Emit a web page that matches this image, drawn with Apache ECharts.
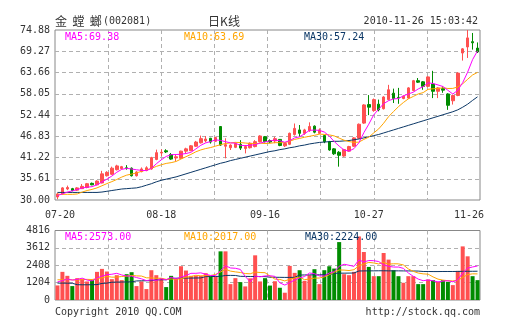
<!DOCTYPE html>
<html><head><meta charset="utf-8">
<script src="https://cdn.jsdelivr.net/npm/echarts@6/dist/echarts.min.js"></script>
<style>html,body{margin:0;padding:0;background:#fff}#c{width:505px;height:330px}</style>
</head><body><div id="c"></div>
<script>
const dates = ['07-20','07-21','07-22','07-23','07-26','07-27','07-28','07-29','07-30','08-02','08-03','08-04','08-05','08-06','08-09','08-10','08-11','08-12','08-13','08-16','08-17','08-18','08-19','08-20','08-23','08-24','08-25','08-26','08-27','08-30','08-31','09-01','09-02','09-03','09-06','09-07','09-08','09-09','09-10','09-13','09-14','09-15','09-16','09-17','09-20','09-21','09-27','09-28','09-29','09-30','10-08','10-11','10-12','10-13','10-14','10-15','10-18','10-19','10-20','10-21','10-22','10-25','10-26','10-27','10-28','10-29','11-01','11-02','11-03','11-04','11-05','11-08','11-09','11-10','11-11','11-12','11-15','11-16','11-17','11-18','11-19','11-22','11-23','11-24','11-25','11-26'];
const tickDates = ['07-20','08-18','09-16','10-27','11-26'];
const openP = [30.8,31.6,32.9,33.0,32.6,33.0,33.3,34.4,34.0,34.5,36.4,36.8,38.0,38.3,38.5,38.4,36.4,37.5,37.8,38.2,40.7,42.4,43.0,42.0,41.1,41.0,42.9,43.0,44.2,45.1,45.6,46.3,45.5,49.4,44.2,43.8,43.9,44.7,43.6,43.8,44.1,45.4,46.7,45.7,45.6,46.0,44.3,44.7,47.3,48.5,47.6,48.3,49.5,47.6,47.0,45.4,43.5,42.6,41.6,42.9,44.2,46.3,50.3,55.2,53.6,55.3,54.1,56.5,58.2,57.1,56.8,56.9,58.9,61.5,61.2,60.0,60.6,58.7,59.4,58.0,56.2,57.6,68.8,70.4,71.8,70.1];
const closeP = [31.6,33.2,33.3,32.5,33.2,33.6,34.3,34.0,35.0,36.9,37.3,38.4,39.0,38.8,38.3,36.4,37.4,38.2,38.5,41.2,42.5,42.6,42.7,40.8,41.4,42.9,43.5,44.3,45.3,46.2,46.1,45.3,46.5,44.5,44.6,44.5,44.9,43.7,44.1,45.0,45.4,46.9,45.4,45.3,46.2,44.4,44.9,47.6,48.9,47.6,48.5,49.4,47.9,48.5,45.4,43.2,42.2,41.8,43.3,44.1,46.4,50.0,55.1,54.5,56.5,53.8,57.2,59.1,56.8,57.0,57.4,59.6,61.5,61.1,60.0,62.5,58.7,59.6,59.0,55.0,57.6,63.5,69.9,72.8,71.5,69.1];
const lowP = [30.2,31.4,32.6,32.3,32.4,32.9,33.1,33.9,33.9,34.4,36.2,36.6,37.8,38.1,38.0,36.2,36.2,37.3,37.6,38.0,40.5,41.6,42.4,40.6,40.3,40.9,42.3,42.9,44.0,44.9,45.2,44.9,45.3,44.3,41.0,43.2,43.7,43.2,42.3,43.6,43.9,45.2,45.2,45.0,45.0,44.2,44.0,44.5,47.0,46.7,47.2,48.0,47.6,47.4,45.0,43.0,41.9,38.8,41.4,42.7,44.0,46.1,50.1,52.4,53.3,53.4,53.9,56.3,55.6,55.4,56.6,56.7,58.7,60.9,59.1,59.8,56.9,56.9,58.3,53.8,55.2,57.4,66.8,67.5,69.7,68.8];
const highP = [31.9,33.4,33.8,33.2,33.4,34.2,34.5,34.6,35.2,37.7,37.6,38.8,39.3,39.0,39.2,38.6,37.6,38.6,38.9,41.4,43.3,43.4,43.4,42.4,42.0,43.0,43.8,44.5,45.6,47.0,46.9,46.4,46.7,49.5,46.3,44.7,45.2,45.8,44.5,45.2,45.8,47.1,46.9,46.0,46.7,46.1,45.2,47.8,50.2,49.8,48.8,50.5,49.7,48.9,47.2,45.6,43.7,42.9,43.5,44.3,46.6,50.2,55.3,57.7,56.8,56.5,57.4,60.4,59.4,59.6,57.6,59.8,61.7,62.2,61.4,62.7,64.1,59.8,60.0,58.2,57.8,63.7,70.1,74.88,74.1,71.6];
const ma5 = [31.2,31.6,32.1,32.4,32.76,33.16,33.38,33.52,34.02,34.76,35.5,36.32,37.32,38.08,38.36,38.18,37.98,37.82,37.76,38.34,39.56,40.6,41.5,41.96,42.0,42.08,42.26,42.58,43.48,44.44,45.08,45.44,45.88,45.72,45.4,45.08,45.0,44.44,44.36,44.44,44.62,45.02,45.36,45.6,45.84,45.64,45.24,45.68,46.4,46.68,47.5,48.4,48.46,48.38,47.94,46.88,45.44,44.22,43.18,42.92,43.56,45.12,47.78,50.02,52.5,53.98,55.42,56.22,56.68,56.78,57.5,57.98,58.46,59.32,59.92,60.94,60.76,60.38,59.96,58.96,57.98,58.94,61.0,63.76,67.06,69.38];
const ma10 = [31.5,31.5,31.5,31.5,31.6,32.1,32.5,32.8,33.2,33.76,34.33,34.85,35.42,36.05,36.56,36.84,37.15,37.57,37.92,38.35,38.87,39.29,39.66,39.86,40.17,40.82,41.43,42.04,42.72,43.22,43.58,43.85,44.23,44.6,44.92,45.08,45.22,45.16,45.04,44.92,44.85,45.01,44.9,44.98,45.14,45.13,45.13,45.52,46.0,46.26,46.57,46.82,47.07,47.39,47.31,47.19,46.92,46.34,45.78,45.43,45.22,45.28,46.0,46.6,47.71,48.77,50.27,52.0,53.35,54.64,55.74,56.7,57.34,58.0,58.35,59.22,59.37,59.42,59.64,59.44,59.46,59.85,60.69,61.86,63.01,63.69];
const ma30 = [32.0,32.0,32.0,32.0,32.0,32.0,32.0,32.0,32.0,32.1,32.3,32.5,32.7,32.9,33.0,33.1,33.2,33.5,33.9,34.3,34.8,35.2,35.5,35.8,36.1,36.5,36.9,37.3,37.7,38.1,38.5,38.9,39.3,39.7,40.0,40.4,40.7,41.0,41.3,41.6,41.9,42.2,42.5,42.8,43.0,43.3,43.5,43.8,44.0,44.3,44.5,44.8,45.0,45.2,45.3,45.4,45.5,45.5,45.6,45.7,45.9,46.1,46.4,46.7,47.0,47.3,47.7,48.1,48.5,48.9,49.3,49.7,50.1,50.5,50.9,51.3,51.7,52.1,52.5,52.9,53.3,53.8,54.5,55.3,56.3,57.24];
const volume = [1010,1950,1675,964,1514,1468,1285,1400,1950,2156,1973,1445,1720,1377,1789,1927,964,1285,757,2064,1720,1514,895,1675,1514,2340,2041,1675,1675,1675,1858,1629,1629,3371,3371,1100,1514,1239,941,1500,3096,1285,1514,1000,1300,848,505,2362,1880,2063,1330,1720,2133,1100,2064,2339,2178,4013,1789,1720,1950,4403,3325,2293,1651,1651,3256,2798,2064,1651,1193,1651,1651,1100,1100,1422,1376,1261,1376,1261,1032,2017,3715,3027,1651,1376];
const volMa5 = [1250,1350,1450,1380,1423,1514,1381,1326,1523,1652,1753,1785,1849,1734,1661,1652,1555,1468,1344,1399,1358,1468,1390,1574,1464,1588,1693,1849,1849,1881,1785,1702,1693,2032,2372,2220,2197,2119,1633,1259,1658,1612,1667,1679,1639,1189,1033,1203,1379,1532,1628,1871,1825,1669,1669,1871,1963,2339,2477,2408,2330,2775,2637,2738,2724,2665,2435,2330,2284,2284,2192,1871,1642,1449,1339,1385,1330,1252,1307,1339,1261,1389,1880,2210,2288,2357];
const volMa10 = [1400,1400,1420,1400,1380,1420,1430,1420,1480,1538,1634,1583,1588,1629,1657,1703,1670,1659,1539,1530,1505,1512,1429,1459,1432,1473,1581,1620,1712,1673,1687,1698,1771,1941,2127,2003,1950,1906,1833,1816,1939,1905,1893,1656,1449,1424,1323,1435,1529,1586,1409,1452,1514,1524,1601,1750,1917,2082,2073,2039,2101,2369,2488,2608,2566,2498,2605,2484,2511,2504,2429,2153,1986,1867,1812,1789,1601,1447,1378,1339,1323,1360,1566,1759,1814,1809];
const volMa30 = [1170,1170,1165,1160,1060,1055,1055,1060,1065,1150,1170,1230,1240,1245,1250,1260,1320,1330,1335,1340,1395,1400,1405,1500,1510,1515,1520,1520,1525,1530,1620,1625,1630,1640,1700,1705,1700,1640,1635,1630,1630,1625,1620,1580,1575,1570,1565,1565,1570,1730,1735,1740,1745,1745,1750,1760,1850,1860,1860,1865,1870,2010,2015,2020,2020,2025,2025,2020,2020,2020,2015,2015,2010,2005,1975,1975,1970,1970,1975,1975,1975,1980,1985,1990,1990,1995];
const priceTicks = [30.00,35.61,41.22,46.83,52.44,58.05,63.66,69.27,74.88];
const volTicks = [0,1204,2408,3612,4816];
const mainLegend = ['MA5:69.38','MA10:63.69','MA30:57.24'];
const volLegend = ['MA5:2573.00','MA10:2017.00','MA30:2224.00'];
const titleName = '金  螳  螂';
const titleCode = '(002081)';
const titleKind = '日K线';
const titleTime = '2010-11-26 15:03:42';
const footLeft = 'Copyright 2010 QQ.COM';
const footRight = 'http://stock.qq.com';

const RED = '#ff5050', GREEN = '#008c00';
const C5 = '#ff00ff', C10 = '#ffa500', C30 = '#0b3766';
const MONO = '"DejaVu Sans Mono", monospace';
const CJK = '"Noto Sans CJK SC", sans-serif';
function gridDash() { return {show: true, showMinLine: false, showMaxLine: false, lineStyle: {color: '#b0b0b0', type: [4, 3], width: 1}}; }
const lblStyle = {color: '#333', fontFamily: MONO, fontSize: 10};
function hiddenAxis() { return {axisLine: {show: false}, axisTick: {show: false}, axisLabel: {show: false}}; }

const candleData = openP.map((o, i) => [o, closeP[i], lowP[i], highP[i]]);
const volData = volume.map((v, i) => ({value: v, itemStyle: {color: closeP[i] >= openP[i] ? RED : GREEN}}));
const rows = priceTicks.length - 1;
const cols = 8;

function txt(x, y, text, color, font, align) {
  return {type: 'text', x: x, y: y, silent: true, z: 100,
    style: {text: text, fill: color, font: font, align: align || 'left', textAlign: align || 'left', verticalAlign: 'middle', textVerticalAlign: 'middle'}};
}

const chart = echarts.init(document.getElementById('c'), null, {renderer: 'canvas'});
chart.setOption({
  animation: false,
  backgroundColor: '#fff',
  grid: [
    {left: 55, top: 30, width: 425, height: 170, show: true, borderColor: '#888', borderWidth: 1, backgroundColor: 'transparent'},
    {left: 55, top: 230.5, width: 425, height: 69.5, show: true, borderColor: '#888', borderWidth: 1, backgroundColor: 'transparent'}
  ],
  xAxis: [
    Object.assign({type: 'category', gridIndex: 0, data: dates, boundaryGap: true}, hiddenAxis(), {
      splitLine: {show: false},
      axisLabel: Object.assign({}, lblStyle, {
        show: true, margin: 10, hideOverlap: false,
        interval: (idx, val) => tickDates.includes(val),
        formatter: (val) => val === tickDates[tickDates.length - 1] ? '{e|' + val + '}' : (val === tickDates[0] ? '{s|' + val + '}' : val),
        rich: {e: Object.assign({}, lblStyle, {padding: [0, 17, 0, 0]}), s: Object.assign({}, lblStyle, {padding: [0, 0, 0, 5]})}
      })}),
    Object.assign({type: 'value', gridIndex: 0, min: 0, max: cols, interval: 1, position: 'top'}, hiddenAxis(), {splitLine: gridDash()}),
    Object.assign({type: 'category', gridIndex: 1, data: dates, boundaryGap: true}, hiddenAxis(), {splitLine: {show: false}}),
    Object.assign({type: 'value', gridIndex: 1, min: 0, max: cols, interval: 1, position: 'top'}, hiddenAxis(), {splitLine: gridDash()})
  ],
  yAxis: [
    {type: 'value', gridIndex: 0, min: priceTicks[0], max: priceTicks[rows],
      axisLine: {show: false}, axisTick: {show: false, customValues: priceTicks},
      axisLabel: Object.assign({}, lblStyle, {margin: 5, customValues: priceTicks, formatter: v => Number(v).toFixed(2)}),
      splitLine: {show: false}},
    {type: 'value', gridIndex: 1, min: 0, max: volTicks[volTicks.length - 1], interval: volTicks[1],
      axisLine: {show: false}, axisTick: {show: false},
      axisLabel: Object.assign({}, lblStyle, {margin: 5, formatter: v => String(v)}),
      splitLine: gridDash()},
    Object.assign({type: 'value', gridIndex: 0, min: 0, max: rows, interval: 1, position: 'right'}, hiddenAxis(), {splitLine: gridDash()})
  ],
  series: [
    {type: 'candlestick', xAxisIndex: 0, yAxisIndex: 0, data: candleData, barWidth: 3,
      itemStyle: {color: RED, color0: GREEN, borderColor: RED, borderColor0: GREEN, borderWidth: 1}},
    {type: 'line', xAxisIndex: 0, yAxisIndex: 0, data: ma30, symbol: 'none', lineStyle: {color: C30, width: 1}, z: 3},
    {type: 'line', xAxisIndex: 0, yAxisIndex: 0, data: ma10, symbol: 'none', lineStyle: {color: C10, width: 1}, z: 3},
    {type: 'line', xAxisIndex: 0, yAxisIndex: 0, data: ma5, symbol: 'none', lineStyle: {color: C5, width: 1}, z: 3},
    {type: 'bar', xAxisIndex: 2, yAxisIndex: 1, data: volData, barWidth: 4},
    {type: 'line', xAxisIndex: 2, yAxisIndex: 1, data: volMa30, symbol: 'none', lineStyle: {color: C30, width: 1}, z: 3},
    {type: 'line', xAxisIndex: 2, yAxisIndex: 1, data: volMa10, symbol: 'none', lineStyle: {color: C10, width: 1}, z: 3},
    {type: 'line', xAxisIndex: 2, yAxisIndex: 1, data: volMa5, symbol: 'none', lineStyle: {color: C5, width: 1}, z: 3}
  ],
  graphic: [
    txt(55, 21, titleName, '#333', '12px ' + CJK),
    txt(103, 21, titleCode, '#333', '10px ' + MONO),
    txt(224, 21, titleKind, '#333', '12px ' + CJK, 'center'),
    txt(478, 21, titleTime, '#333', '10px ' + MONO, 'right'),
    txt(65, 37, mainLegend[0], C5, '10px ' + MONO),
    txt(184, 37, mainLegend[1], C10, '10px ' + MONO),
    txt(304, 37, mainLegend[2], C30, '10px ' + MONO),
    txt(65, 237, volLegend[0], C5, '10px ' + MONO),
    txt(184, 237, volLegend[1], C10, '10px ' + MONO),
    txt(305, 237, volLegend[2], C30, '10px ' + MONO),
    txt(55, 312, footLeft, '#333', '10px ' + MONO),
    txt(480, 312, footRight, '#333', '10px ' + MONO, 'right')
  ]
});
</script></body></html>
